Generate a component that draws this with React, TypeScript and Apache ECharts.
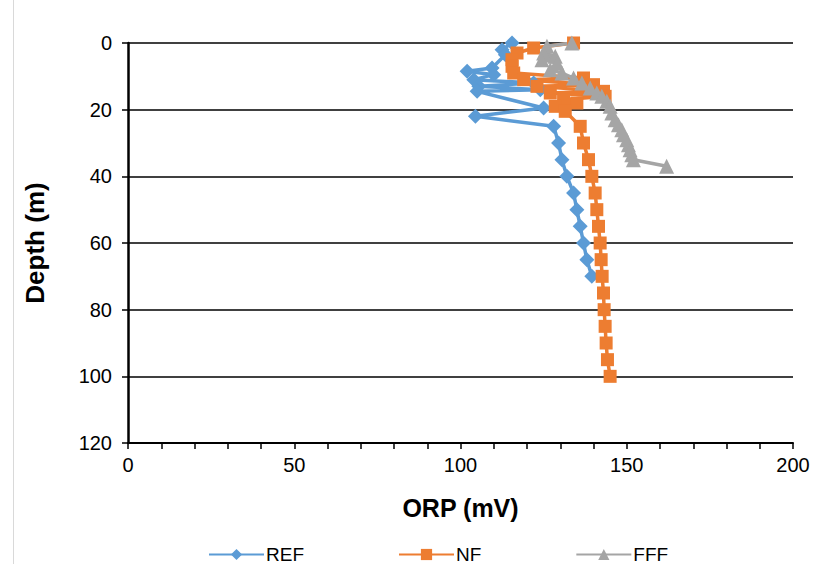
import React, { useEffect, useRef } from "react";
import * as echarts from "echarts";

const seriesNames = ["REF", "NF", "FFF"];
const colors = ["#5B9BD5", "#ED7D31", "#A5A5A5"];

// [ORP (mV), Depth (m)]
const refData: [number, number][] = [
  [115.5, 0], [112.5, 2], [113.5, 3.5], [109.5, 7.5], [102, 8.5], [110, 9.5],
  [104, 11], [122, 12], [105.5, 13], [124, 14], [105, 14.5], [125, 19.5],
  [104.5, 22], [128, 25], [129.5, 30], [130.5, 35], [132, 40], [134, 45],
  [135, 50], [136, 55], [137, 60], [138, 65], [139.5, 70],
];

const nfData: [number, number][] = [
  [134, 0], [122, 1.5], [117, 3], [115.5, 5], [115.5, 7], [116, 9], [137, 10.5],
  [119, 11], [140, 12.5], [123, 13], [143, 14.5], [127, 15], [143.5, 16],
  [131, 17], [135, 18], [128.5, 19], [131.5, 20.5], [136, 25], [137, 30],
  [138.5, 35], [139.5, 40], [140.5, 45], [141, 50], [141.5, 55], [142, 60],
  [142.3, 65], [142.6, 70], [143, 75], [143.2, 80], [143.5, 85], [143.8, 90],
  [144.2, 95], [145, 100],
];

const fffData: [number, number][] = [
  [133.5, 0], [126, 1], [125, 3], [128.5, 4], [124.5, 5], [129, 6], [127, 8],
  [130.5, 9], [134, 10.5], [136.5, 12], [139, 13.5], [141, 15], [142.5, 16],
  [144, 17.5], [145, 19], [145.5, 21], [146.5, 23], [147.5, 24.5], [148.5, 26],
  [149, 27.5], [150, 29], [150.5, 30.5], [151, 32], [151.5, 33.5], [152, 35],
  [162, 37],
];

const xTickLabels = ["0", "50", "100", "150", "200"];

export default function App() {
  const ref = useRef<HTMLDivElement>(null);
  useEffect(() => {
    if (!ref.current) return;
    const chart = echarts.init(ref.current, undefined, { renderer: "svg" });
    const font = "Liberation Sans, Arial, sans-serif";
    const datasets = [refData, nfData, fffData];
    const symbols = ["diamond", "rect", "triangle"];
    const sizes = [15, 13, 15];
    chart.setOption({
      animation: false,
      backgroundColor: "#fff",
      textStyle: { fontFamily: font },
      grid: { left: 128, right: 31, top: 43, bottom: 121 },
      legend: {
        left: 203,
        top: 540,
        itemWidth: 55,
        itemHeight: 14,
        itemGap: 94,
        data: seriesNames,
        textStyle: { fontSize: 19, color: "#000", fontFamily: font, padding: [0, 0, 0, -3] },
      },
      xAxis: {
        type: "value",
        min: 0,
        max: 200,
        interval: 10,
        position: "bottom",
        name: "ORP (mV)",
        nameLocation: "middle",
        nameGap: 52,
        nameTextStyle: { fontSize: 25, fontWeight: "bold", color: "#000", fontFamily: font },
        axisLine: { onZero: false, lineStyle: { color: "#000", width: 2 } },
        axisTick: { show: true, length: 6, lineStyle: { color: "#000", width: 1.5 } },
        axisLabel: {
          fontSize: 20,
          color: "#000",
          margin: 12,
          fontFamily: font,
          formatter: (v: number) => (xTickLabels.includes(String(v)) ? String(v) : ""),
        },
        splitLine: { show: false },
      },
      yAxis: {
        type: "value",
        inverse: true,
        min: 0,
        max: 120,
        interval: 20,
        name: "Depth (m)",
        nameLocation: "middle",
        nameGap: 80,
        nameTextStyle: { fontSize: 26, fontWeight: "bold", color: "#000", fontFamily: font },
        axisLine: { onZero: false, lineStyle: { color: "#000", width: 2.5 } },
        axisTick: { show: true, length: 6, lineStyle: { color: "#000", width: 1.5 } },
        axisLabel: { fontSize: 20, color: "#000", margin: 16, fontFamily: font },
        splitLine: { show: true, lineStyle: { color: "#000", width: 1.5 } },
      },
      series: seriesNames.map((name, i) => ({
        name,
        type: "line",
        data: datasets[i],
        symbol: symbols[i],
        symbolSize: sizes[i],
        lineStyle: { color: colors[i], width: 3.5 },
        itemStyle: { color: colors[i] },
        color: colors[i],
      })),
      graphic: [
        {
          type: "line",
          shape: { x1: 13.5, y1: 0, x2: 13.5, y2: 564 },
          style: { stroke: "#d9d9d9", lineWidth: 1 },
        },
      ],
    });
    return () => chart.dispose();
  }, []);
  return (
    <div
      ref={ref}
      style={{ position: "fixed", left: 0, top: 0, width: 824, height: 564 }}
    />
  );
}
